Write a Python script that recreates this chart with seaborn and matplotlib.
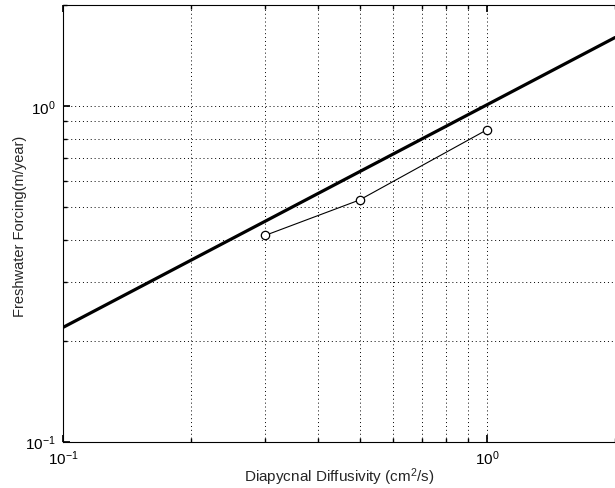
import pandas as pd
import matplotlib
matplotlib.use("Agg")
import matplotlib.pyplot as plt
import matplotlib.ticker as mticker
import seaborn as sns

# Model results and the reference scaling line
diffusivity = [0.3, 0.5, 1.0]
forcing = [0.412, 0.525, 0.851]
scaling_x = [0.1, 2.0]
scaling_y = [0.219, 1.60]

sns.set_theme(style="ticks")
plt.rcParams['font.family'] = ['Liberation Sans', 'DejaVu Sans']
plt.rcParams['mathtext.fontset'] = 'custom'
plt.rcParams['mathtext.rm'] = 'Liberation Sans'
plt.rcParams['mathtext.it'] = 'Liberation Sans:italic'

fig = plt.figure(figsize=(6.15, 4.89), dpi=100)
ax = fig.add_axes([0.1024, 0.0947, 0.8976, 0.893])

model = pd.DataFrame({'x': diffusivity, 'y': forcing})
scaling = pd.DataFrame({'x': scaling_x, 'y': scaling_y})

sns.lineplot(data=scaling, x='x', y='y', ax=ax, color='black', linewidth=2.3,
             estimator=None, sort=False)
sns.lineplot(data=model, x='x', y='y', ax=ax, color='black', linewidth=0.8,
             marker='o', markersize=6, markerfacecolor='white',
             markeredgecolor='black', markeredgewidth=0.9, estimator=None)

ax.set_xscale('log')
ax.set_yscale('log')
ax.set_xlim(0.1, 2.0)
ax.set_ylim(0.1, 2.0)

for axis in (ax.xaxis, ax.yaxis):
    axis.set_major_locator(mticker.LogLocator(base=10))
    axis.set_minor_locator(mticker.LogLocator(base=10, subs=range(2, 10)))
    axis.set_minor_formatter(mticker.NullFormatter())

ax.grid(True, which='both', linestyle=(0, (1, 3)), color='black', linewidth=0.7)
ax.tick_params(which='both', direction='in', top=True, right=False,
               colors='black', labelsize=11)
ax.tick_params(which='major', length=5)
ax.tick_params(which='minor', length=3)
ax.tick_params(axis='x', pad=5)
ax.tick_params(axis='y', pad=5)
for side in ('left', 'bottom', 'top'):
    ax.spines[side].set_color('black')
    ax.spines[side].set_linewidth(0.8)
ax.spines['right'].set_visible(False)

ax.set_xlabel('Diapycnal Diffusivity (cm$^2$/s)', fontsize=11)
ax.set_ylabel('Freshwater Forcing(m/year)', fontsize=10.5)
ax.xaxis.set_label_coords(0.5, -0.054)
ax.yaxis.set_label_coords(-0.066, 0.495)

fig.savefig('out.png', dpi=100)
